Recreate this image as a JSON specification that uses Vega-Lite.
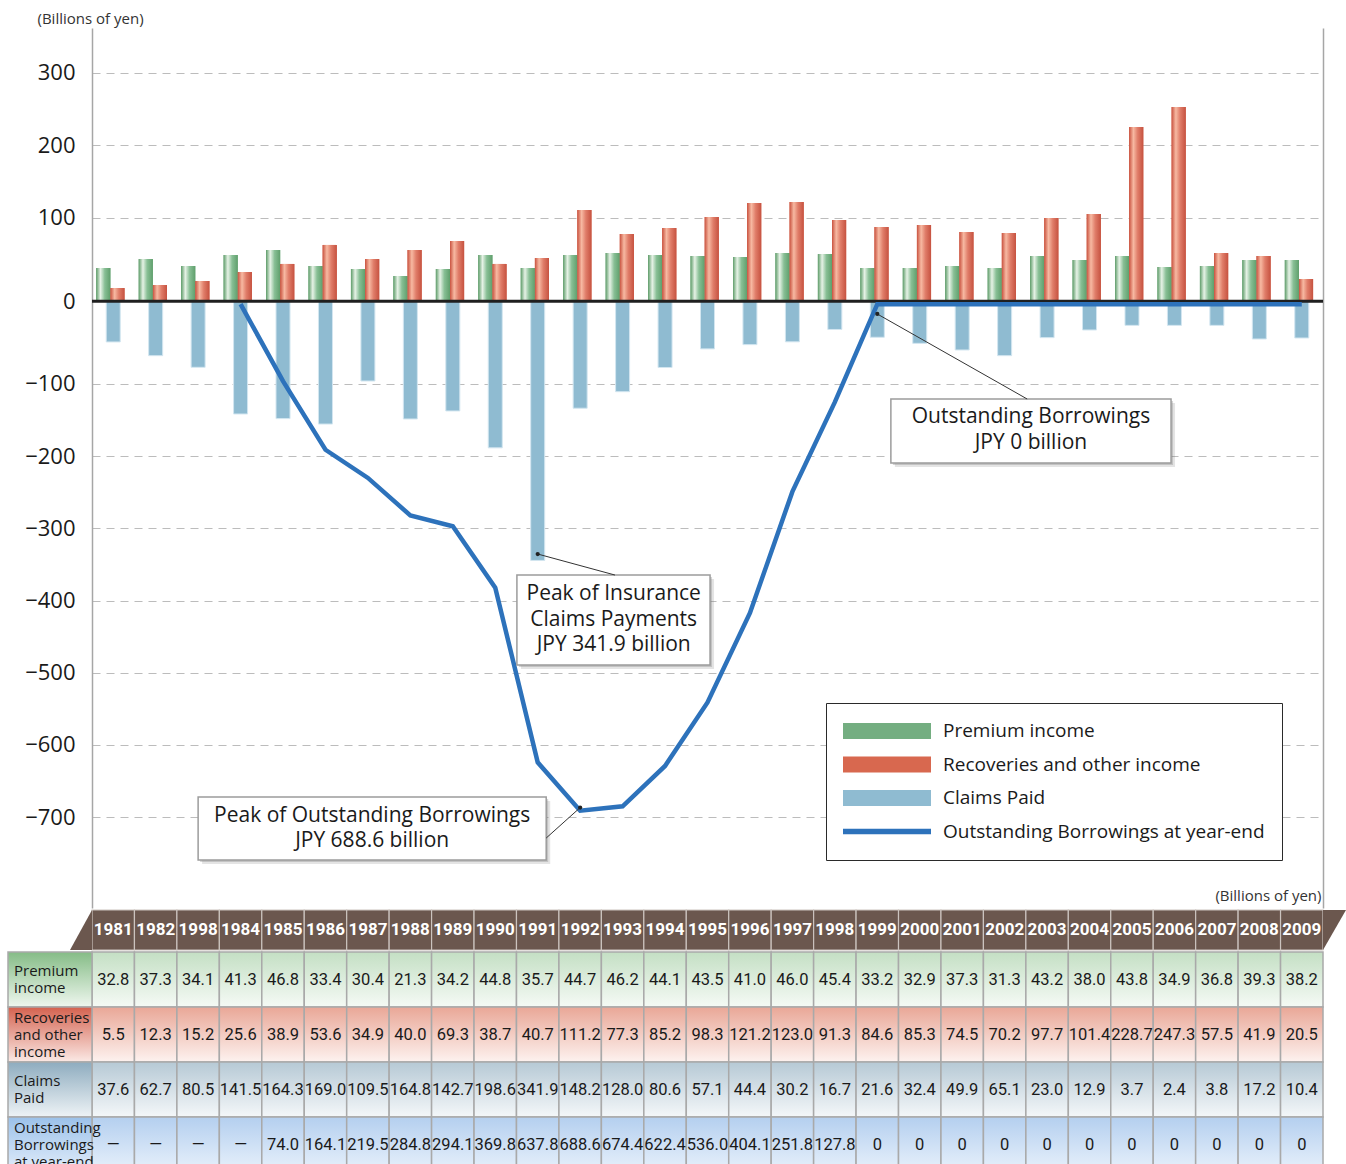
{
"$schema": "https://vega.github.io/schema/vega-lite/v6.json",
"width": 1231,
"height": 1136,
"autosize": {"type": "none"},
"padding": {"left": 92, "top": 28, "right": 23, "bottom": 0},
"background": "white",
"config": {"view": {"stroke": null}, "font": "Open Sans"},
"datasets": {
"d": [
{"k":"1981","yl":"1981","p":32.8,"r":5.5,"c":37.6,"ob":"—","pb":31.0,"rb":3.4,"cb":-41.8,"ol":null},
{"k":"1982","yl":"1982","p":37.3,"r":12.3,"c":62.7,"ob":"—","pb":43.4,"rb":7.6,"cb":-60.8,"ol":null},
{"k":"1983","yl":"1998","p":34.1,"r":15.2,"c":80.5,"ob":"—","pb":33.8,"rb":13.1,"cb":-76.9,"ol":null},
{"k":"1984","yl":"1984","p":41.3,"r":25.6,"c":141.5,"ob":"—","pb":49.0,"rb":25.5,"cb":-141.6,"ol":0},
{"k":"1985","yl":"1985","p":46.8,"r":38.9,"c":164.3,"ob":"74.0","pb":55.9,"rb":36.6,"cb":-148.0,"ol":-92},
{"k":"1986","yl":"1986","p":33.4,"r":53.6,"c":169.0,"ob":"164.1","pb":33.8,"rb":62.8,"cb":-155.5,"ol":-187},
{"k":"1987","yl":"1987","p":30.4,"r":34.9,"c":109.5,"ob":"219.5","pb":29.7,"rb":43.4,"cb":-95.9,"ol":-226},
{"k":"1988","yl":"1988","p":21.3,"r":40.0,"c":164.8,"ob":"284.8","pb":20.0,"rb":55.9,"cb":-148.5,"ol":-278},
{"k":"1989","yl":"1989","p":34.2,"r":69.3,"c":142.7,"ob":"294.1","pb":29.7,"rb":68.3,"cb":-137.4,"ol":-293},
{"k":"1990","yl":"1990","p":44.8,"r":38.7,"c":198.6,"ob":"369.8","pb":49.0,"rb":36.6,"cb":-188.5,"ol":-378},
{"k":"1991","yl":"1991","p":35.7,"r":40.7,"c":341.9,"ob":"637.8","pb":31.0,"rb":44.8,"cb":-344.5,"ol":-620},
{"k":"1992","yl":"1992","p":44.7,"r":111.2,"c":148.2,"ob":"688.6","pb":49.0,"rb":111.0,"cb":-133.6,"ol":-687},
{"k":"1993","yl":"1993","p":46.2,"r":77.3,"c":128.0,"ob":"674.4","pb":51.7,"rb":77.9,"cb":-110.7,"ol":-681},
{"k":"1994","yl":"1994","p":44.1,"r":85.2,"c":80.6,"ob":"622.4","pb":49.0,"rb":86.2,"cb":-77.2,"ol":-625},
{"k":"1995","yl":"1995","p":43.5,"r":98.3,"c":57.1,"ob":"536.0","pb":47.6,"rb":101.4,"cb":-51.4,"ol":-537},
{"k":"1996","yl":"1996","p":41.0,"r":121.2,"c":44.4,"ob":"404.1","pb":46.2,"rb":120.7,"cb":-45.5,"ol":-413},
{"k":"1997","yl":"1997","p":46.0,"r":123.0,"c":30.2,"ob":"251.8","pb":51.7,"rb":122.1,"cb":-41.6,"ol":-245},
{"k":"1998","yl":"1998","p":45.4,"r":91.3,"c":16.7,"ob":"127.8","pb":50.3,"rb":97.2,"cb":-24.5,"ol":-121},
{"k":"1999","yl":"1999","p":33.2,"r":84.6,"c":21.6,"ob":"0","pb":31.0,"rb":87.6,"cb":-35.3,"ol":0},
{"k":"2000","yl":"2000","p":32.9,"r":85.3,"c":32.4,"ob":"0","pb":31.0,"rb":90.3,"cb":-43.7,"ol":0},
{"k":"2001","yl":"2001","p":37.3,"r":74.5,"c":49.9,"ob":"0","pb":33.8,"rb":80.7,"cb":-52.9,"ol":0},
{"k":"2002","yl":"2002","p":31.3,"r":70.2,"c":65.1,"ob":"0","pb":31.0,"rb":79.3,"cb":-60.8,"ol":0},
{"k":"2003","yl":"2003","p":43.2,"r":97.7,"c":23.0,"ob":"0","pb":47.6,"rb":100.0,"cb":-35.8,"ol":0},
{"k":"2004","yl":"2004","p":38.0,"r":101.4,"c":12.9,"ob":"0","pb":42.1,"rb":105.5,"cb":-25.2,"ol":0},
{"k":"2005","yl":"2005","p":43.8,"r":228.7,"c":3.7,"ob":"0","pb":47.6,"rb":225.5,"cb":-18.8,"ol":0},
{"k":"2006","yl":"2006","p":34.9,"r":247.3,"c":2.4,"ob":"0","pb":32.4,"rb":253.1,"cb":-18.8,"ol":0},
{"k":"2007","yl":"2007","p":36.8,"r":57.5,"c":3.8,"ob":"0","pb":33.8,"rb":51.7,"cb":-18.8,"ol":0},
{"k":"2008","yl":"2008","p":39.3,"r":41.9,"c":17.2,"ob":"0","pb":42.1,"rb":47.6,"cb":-37.7,"ol":0},
{"k":"2009","yl":"2009","p":38.2,"r":20.5,"c":10.4,"ob":"0","pb":42.1,"rb":15.9,"cb":-36.3,"ol":0}
],
"rl": [
{"row":"p","lab":"Premium\nincome"},
{"row":"r","lab":"Recoveries\nand other\nincome"},
{"row":"c","lab":"Claims\nPaid"},
{"row":"ob","lab":"Outstanding\nBorrowings\nat year-end"}
]
},
"layer": [
{
"data": {"name": "d"},
"layer": [
{
"transform": [{"fold": ["pb","rb"], "as": ["s","v"]}],
"mark": {"type": "bar"},
"encoding": {
"x": {"field":"k","type":"nominal","axis":null,"scale":{"domain":["1981","1982","1983","1984","1985","1986","1987","1988","1989","1990","1991","1992","1993","1994","1995","1996","1997","1998","1999","2000","2001","2002","2003","2004","2005","2006","2007","2008","2009"],"paddingInner":0,"paddingOuter":0}},
"xOffset": {"field":"s","type":"nominal","scale":{"domain":["pb","rb"],"paddingInner":0,"paddingOuter":0.5,"align":0.3}},
"y": {"field":"v","type":"quantitative","title":"(Billions of yen)",
"scale":{"type":"linear","domain":[-826,-0.01,0.01,362],"range":[880,283.8,262.5,0],"nice":false,"zero":false},
"axis":{"values":[-700,-600,-500,-400,-300,-200,-100,0,100,200,300],"format":"d","title":"(Billions of yen)","titleAngle":0,"titleX":-55,"titleY":-10,"titleAlign":"left","titleBaseline":"middle","titleFontSize":15,"titleFontWeight":"normal","titleColor":"#333333","titleFont":"Open Sans","labelFont":"Open Sans","labelFontSize":22,"labelColor":"#1a1a1a","labelPadding":17,"ticks":false,"domainColor":"#a6a6a6","domainWidth":1.5,"grid":true,"gridColor":"#bcbcbc","gridDash":[8,6],"gridWidth":1.2}},
"y2": {"datum": 0},
"color": {"field":"s","type":"nominal",
"scale":{"domain":["pb","rb","cb","ol"],"range":["#74ae81","#d8684f","#8fbbd1","#2d72bb"]},
"legend":{"title":null,"orient":"none","legendX":734,"legendY":675,"direction":"vertical","strokeColor":"#2a2a2a","fillColor":"white","padding":17,"symbolSize":7744,"symbolType":"M-1,-0.18H1V0.18H-1Z","clipHeight":22,"rowPadding":11.5,"labelFont":"Open Sans","labelFontSize":19,"labelColor":"#1a1a1a","labelOffset":12,"labelLimit":420,"symbolStrokeWidth":0,
"labelExpr":"datum.value==='pb'?'Premium income':datum.value==='rb'?'Recoveries and other income':datum.value==='cb'?'Claims Paid':'Outstanding Borrowings at year-end'",
"encode":{"symbols":{"update":{
"shape":{"signal":"datum.value==='ol' ? 'M-1,-0.065H1V0.065H-1Z' : 'M-1,-0.18H1V0.18H-1Z'"},
"opacity":{"value":1}}}}}}
}
},
{
"transform": [{"fold": ["pb","rb"], "as": ["s","v"]},{"filter":"datum.s==='pb'"}],
"mark": {"type": "bar","color":{"gradient":"linear","x1":0,"y1":0,"x2":1,"y2":0,"stops":[{"offset":0,"color":"#5e9c69"},{"offset":0.3,"color":"#e6f2e6"},{"offset":0.6,"color":"#88bf95"},{"offset":1,"color":"#5f9f6c"}]}},
"encoding": {
"x": {"field":"k","type":"nominal","axis":null,"scale":{"domain":["1981","1982","1983","1984","1985","1986","1987","1988","1989","1990","1991","1992","1993","1994","1995","1996","1997","1998","1999","2000","2001","2002","2003","2004","2005","2006","2007","2008","2009"],"paddingInner":0,"paddingOuter":0}},
"xOffset": {"field":"s","type":"nominal","scale":{"domain":["pb","rb"],"paddingInner":0,"paddingOuter":0.5,"align":0.3}},
"y": {"field":"v","type":"quantitative","title":"(Billions of yen)","scale":{"type":"linear","domain":[-826,-0.01,0.01,362],"range":[880,283.8,262.5,0],"nice":false,"zero":false}},
"y2": {"datum": 0}
}
},
{
"transform": [{"fold": ["pb","rb"], "as": ["s","v"]},{"filter":"datum.s==='rb'"}],
"mark": {"type": "bar","color":{"gradient":"linear","x1":0,"y1":0,"x2":1,"y2":0,"stops":[{"offset":0,"color":"#c9523f"},{"offset":0.3,"color":"#f7b9a2"},{"offset":0.6,"color":"#e07d69"},{"offset":1,"color":"#c65240"}]}},
"encoding": {
"x": {"field":"k","type":"nominal","axis":null,"scale":{"domain":["1981","1982","1983","1984","1985","1986","1987","1988","1989","1990","1991","1992","1993","1994","1995","1996","1997","1998","1999","2000","2001","2002","2003","2004","2005","2006","2007","2008","2009"],"paddingInner":0,"paddingOuter":0}},
"xOffset": {"field":"s","type":"nominal","scale":{"domain":["pb","rb"],"paddingInner":0,"paddingOuter":0.5,"align":0.3}},
"y": {"field":"v","type":"quantitative","title":"(Billions of yen)","scale":{"type":"linear","domain":[-826,-0.01,0.01,362],"range":[880,283.8,262.5,0],"nice":false,"zero":false}},
"y2": {"datum": 0}
}
},
{
"mark": {"type": "bar","color":"#8fbbd1","stroke":"#d3e6f0","strokeWidth":1,"width":{"band":0.33}},
"encoding": {
"x": {"field":"k","type":"nominal","axis":null,"scale":{"domain":["1981","1982","1983","1984","1985","1986","1987","1988","1989","1990","1991","1992","1993","1994","1995","1996","1997","1998","1999","2000","2001","2002","2003","2004","2005","2006","2007","2008","2009"],"paddingInner":0,"paddingOuter":0}},
"y": {"field":"cb","type":"quantitative","title":"(Billions of yen)","scale":{"type":"linear","domain":[-826,-0.01,0.01,362],"range":[880,283.8,262.5,0],"nice":false,"zero":false}},
"y2": {"datum": 0}
}
},
{
"data": {"values": [{}]},
"mark": {"type": "rule","color":"#1f1f1f","strokeWidth":3},
"encoding": {
"y": {"datum": 0,"type":"quantitative","title":"(Billions of yen)","scale":{"type":"linear","domain":[-826,-0.01,0.01,362],"range":[880,283.8,262.5,0],"nice":false,"zero":false}}
}
},
{
"mark": {"type": "line","color":"#2d72bb","strokeWidth":4.5,"yOffset":3},
"encoding": {
"x": {"field":"k","type":"nominal","axis":null,"scale":{"domain":["1981","1982","1983","1984","1985","1986","1987","1988","1989","1990","1991","1992","1993","1994","1995","1996","1997","1998","1999","2000","2001","2002","2003","2004","2005","2006","2007","2008","2009"],"paddingInner":0,"paddingOuter":0}},
"y": {"field":"ol","type":"quantitative","title":"(Billions of yen)","scale":{"type":"linear","domain":[-826,-0.01,0.01,362],"range":[880,283.8,262.5,0],"nice":false,"zero":false}}
}
}
]
},
{
"data": {"values": [{}]},
"layer": [
{"mark":{"type":"rect","fill":"#777777","opacity":0.3,"xOffset":2,"x2Offset":2,"yOffset":2,"y2Offset":2},
"encoding":{"x":{"datum":10.01,"type":"quantitative","axis":null,"scale":{"type":"linear","domain":[0,29],"nice":false,"zero":false}},"x2":{"datum":14.56},
"y":{"datum":-364.7,"type":"quantitative","title":"(Billions of yen)","scale":{"type":"linear","domain":[-826,-0.01,0.01,362],"range":[880,283.8,262.5,0],"nice":false,"zero":false},
"axis":{"orient":"right","labels":false,"ticks":false,"grid":false,"domainColor":"#a6a6a6","domainWidth":1.5,"title":"(Billions of yen)","titleAngle":0,"titleX":-2,"titleY":867,"titleAlign":"right","titleBaseline":"middle","titleFontSize":15,"titleFontWeight":"normal","titleColor":"#333333","titleFont":"Open Sans"}},
"y2":{"datum":-489.4}}},
{"mark":{"type":"rect","fill":"#777777","opacity":0.2,"xOffset":4,"x2Offset":4,"yOffset":4,"y2Offset":4},
"encoding":{"x":{"datum":10.01,"type":"quantitative"},"x2":{"datum":14.56},"y":{"datum":-364.7,"type":"quantitative"},"y2":{"datum":-489.4}}},
{"mark":{"type":"rect","fill":"white","stroke":"#9c9c9c","strokeWidth":1.5},
"encoding":{"x":{"datum":10.01,"type":"quantitative"},"x2":{"datum":14.56},"y":{"datum":-364.7,"type":"quantitative"},"y2":{"datum":-489.4}}},
{"mark":{"type":"text","text":["Peak of Insurance","Claims Payments","JPY 341.9 billion"],"fontSize":21,"lineHeight":25.5,"align":"center","baseline":"middle","color":"#1a1a1a","font":"Open Sans"},
"encoding":{"x":{"datum":12.29,"type":"quantitative"},"y":{"datum":-391.0,"type":"quantitative"}}},
{"mark":{"type":"rule","color":"#333333","strokeWidth":1},
"encoding":{"x":{"datum":10.5,"type":"quantitative"},"x2":{"datum":12.32},"y":{"datum":-335.6,"type":"quantitative"},"y2":{"datum":-364.7}}},
{"mark":{"type":"point","filled":true,"color":"#222222","size":18,"opacity":1},
"encoding":{"x":{"datum":10.5,"type":"quantitative"},"y":{"datum":-335.6,"type":"quantitative"}}},

{"mark":{"type":"rect","fill":"#777777","opacity":0.3,"xOffset":2,"x2Offset":2,"yOffset":2,"y2Offset":2},
"encoding":{"x":{"datum":2.5,"type":"quantitative"},"x2":{"datum":10.7},"y":{"datum":-672.2,"type":"quantitative"},"y2":{"datum":-759.5}}},
{"mark":{"type":"rect","fill":"#777777","opacity":0.2,"xOffset":4,"x2Offset":4,"yOffset":4,"y2Offset":4},
"encoding":{"x":{"datum":2.5,"type":"quantitative"},"x2":{"datum":10.7},"y":{"datum":-672.2,"type":"quantitative"},"y2":{"datum":-759.5}}},
{"mark":{"type":"rect","fill":"white","stroke":"#9c9c9c","strokeWidth":1.5},
"encoding":{"x":{"datum":2.5,"type":"quantitative"},"x2":{"datum":10.7},"y":{"datum":-672.2,"type":"quantitative"},"y2":{"datum":-759.5}}},
{"mark":{"type":"text","text":["Peak of Outstanding Borrowings","JPY 688.6 billion"],"fontSize":21,"lineHeight":25.5,"align":"center","baseline":"middle","color":"#1a1a1a","font":"Open Sans"},
"encoding":{"x":{"datum":6.6,"type":"quantitative"},"y":{"datum":-698.5,"type":"quantitative"}}},
{"mark":{"type":"rule","color":"#333333","strokeWidth":1},
"encoding":{"x":{"datum":11.5,"type":"quantitative"},"x2":{"datum":10.7},"y":{"datum":-686.9,"type":"quantitative"},"y2":{"datum":-729.1}}},
{"mark":{"type":"point","filled":true,"color":"#222222","size":18,"opacity":1},
"encoding":{"x":{"datum":11.5,"type":"quantitative"},"y":{"datum":-686.9,"type":"quantitative"}}},

{"mark":{"type":"rect","fill":"#777777","opacity":0.3,"xOffset":2,"x2Offset":2,"yOffset":2,"y2Offset":2},
"encoding":{"x":{"datum":18.82,"type":"quantitative"},"x2":{"datum":25.42},"y":{"datum":-120.8,"type":"quantitative"},"y2":{"datum":-209.5}}},
{"mark":{"type":"rect","fill":"#777777","opacity":0.2,"xOffset":4,"x2Offset":4,"yOffset":4,"y2Offset":4},
"encoding":{"x":{"datum":18.82,"type":"quantitative"},"x2":{"datum":25.42},"y":{"datum":-120.8,"type":"quantitative"},"y2":{"datum":-209.5}}},
{"mark":{"type":"rect","fill":"white","stroke":"#9c9c9c","strokeWidth":1.5},
"encoding":{"x":{"datum":18.82,"type":"quantitative"},"x2":{"datum":25.42},"y":{"datum":-120.8,"type":"quantitative"},"y2":{"datum":-209.5}}},
{"mark":{"type":"text","text":["Outstanding Borrowings","JPY 0 billion"],"fontSize":21,"lineHeight":25.5,"align":"center","baseline":"middle","color":"#1a1a1a","font":"Open Sans"},
"encoding":{"x":{"datum":22.12,"type":"quantitative"},"y":{"datum":-145.8,"type":"quantitative"}}},
{"mark":{"type":"rule","color":"#333333","strokeWidth":1},
"encoding":{"x":{"datum":18.5,"type":"quantitative"},"x2":{"datum":22.03},"y":{"datum":-3.05,"type":"quantitative"},"y2":{"datum":-120.8}}},
{"mark":{"type":"point","filled":true,"color":"#222222","size":18,"opacity":1},
"encoding":{"x":{"datum":18.5,"type":"quantitative"},"y":{"datum":-3.05,"type":"quantitative"}}}
]
},
{
"data": {"name": "d"},
"transform": [{"fold": ["yl"], "as": ["row","txt"]}],
"encoding": {
"x": {"field":"k","type":"nominal","axis":null,"scale":{"domain":["1981","1982","1983","1984","1985","1986","1987","1988","1989","1990","1991","1992","1993","1994","1995","1996","1997","1998","1999","2000","2001","2002","2003","2004","2005","2006","2007","2008","2009"],"paddingInner":0,"paddingOuter":0}},
"y": {"field":"row","type":"nominal","axis":null,"scale":{"domain":["yl"],"range":[882,922],"paddingInner":0,"paddingOuter":0}}
},
"layer": [
{"mark":{"type":"rect","fill":"#6b574e","stroke":"#cbc3be","strokeWidth":1.2}},
{"mark":{"type":"text","color":"white","fontWeight":"bold","fontSize":17,"font":"Roboto","baseline":"middle","align":"center"},
"encoding":{"text":{"field":"txt","type":"nominal"}}},
{"transform":[{"filter":"datum.k==='1981'"}],
"mark":{"type":"point","shape":"M0,-1L0,1L-1.1,1Z","size":1600,"filled":true,"color":"#6b574e","opacity":1,"strokeWidth":0},
"encoding":{"x":{"field":"k","type":"nominal","bandPosition":0}}},
{"transform":[{"filter":"datum.k==='2009'"}],
"mark":{"type":"point","shape":"M0,-1L1.15,-1L0,1Z","size":1600,"filled":true,"color":"#6b574e","opacity":1,"strokeWidth":0},
"encoding":{"x":{"field":"k","type":"nominal","bandPosition":1}}}
]
},
{
"data": {"name": "d"},
"transform": [{"fold": ["p","r","c","ob"], "as": ["row","val"]}],
"encoding": {
"x": {"field":"k","type":"nominal","axis":null,"scale":{"domain":["1981","1982","1983","1984","1985","1986","1987","1988","1989","1990","1991","1992","1993","1994","1995","1996","1997","1998","1999","2000","2001","2002","2003","2004","2005","2006","2007","2008","2009"],"paddingInner":0,"paddingOuter":0}},
"y": {"field":"row","type":"nominal","axis":null,"scale":{"domain":["p","r","c","ob"],"range":[924,1144],"paddingInner":0,"paddingOuter":0}}
},
"layer": [
{"mark":{"type":"rect","stroke":"#a9a9a9","strokeWidth":1.5},
"encoding":{"fill":{"condition":[
{"test":"datum.row==='p'","value":{"gradient":"linear","x1":0,"y1":0,"x2":0,"y2":1,"stops":[{"offset":0,"color":"#c4dfc4"},{"offset":1,"color":"#f5faf5"}]}},
{"test":"datum.row==='r'","value":{"gradient":"linear","x1":0,"y1":0,"x2":0,"y2":1,"stops":[{"offset":0,"color":"#e9a797"},{"offset":1,"color":"#fdf2ef"}]}},
{"test":"datum.row==='c'","value":{"gradient":"linear","x1":0,"y1":0,"x2":0,"y2":1,"stops":[{"offset":0,"color":"#b6c9d5"},{"offset":1,"color":"#f4f7f9"}]}}],
"value":{"gradient":"linear","x1":0,"y1":0,"x2":0,"y2":1,"stops":[{"offset":0,"color":"#b4cfef"},{"offset":1,"color":"#e8f1fb"}]}}}},
{"transform":[{"filter":"datum.row!=='ob'"}],
"mark":{"type":"text","color":"#1a1a1a","fontSize":16.5,"font":"Roboto","baseline":"middle","align":"center"},
"encoding":{"text":{"field":"val","type":"quantitative","format":".1f"}}},
{"transform":[{"filter":"datum.row==='ob'"}],
"mark":{"type":"text","color":"#1a1a1a","fontSize":16.5,"font":"Roboto","baseline":"middle","align":"center"},
"encoding":{"text":{"field":"val","type":"nominal"}}}
]
},
{
"data": {"name": "rl"},
"transform": [{"fold": ["lab"], "as": ["col","txt"]}],
"encoding": {
"x": {"field":"col","type":"nominal","axis":null,"scale":{"domain":["lab"],"range":[-84,0],"paddingInner":0,"paddingOuter":0}},
"y": {"field":"row","type":"nominal","axis":null,"scale":{"domain":["p","r","c","ob"],"range":[924,1144],"paddingInner":0,"paddingOuter":0}}
},
"layer": [
{"mark":{"type":"rect","stroke":"#a9a9a9","strokeWidth":1.5},
"encoding":{"fill":{"condition":[
{"test":"datum.row==='p'","value":{"gradient":"linear","x1":0,"y1":0,"x2":0,"y2":1,"stops":[{"offset":0,"color":"#85bc86"},{"offset":1,"color":"#eff7ef"}]}},
{"test":"datum.row==='r'","value":{"gradient":"linear","x1":0,"y1":0,"x2":0,"y2":1,"stops":[{"offset":0,"color":"#d4624f"},{"offset":1,"color":"#fbe9e5"}]}},
{"test":"datum.row==='c'","value":{"gradient":"linear","x1":0,"y1":0,"x2":0,"y2":1,"stops":[{"offset":0,"color":"#8eacbf"},{"offset":1,"color":"#eef3f6"}]}}],
"value":{"gradient":"linear","x1":0,"y1":0,"x2":0,"y2":1,"stops":[{"offset":0,"color":"#9bc1ea"},{"offset":1,"color":"#e2edfa"}]}}}},
{"transform":[{"filter":"datum.row==='p' || datum.row==='c'"}],
"mark":{"type":"text","color":"#1a1a1a","fontSize":15,"font":"Open Sans","baseline":"middle","align":"left","dx":6,"dy":-8.5,"lineBreak":"\n","lineHeight":17},
"encoding":{"x":{"field":"col","type":"nominal","bandPosition":0},"text":{"field":"txt","type":"nominal"}}},
{"transform":[{"filter":"datum.row==='r' || datum.row==='ob'"}],
"mark":{"type":"text","color":"#1a1a1a","fontSize":15,"font":"Open Sans","baseline":"middle","align":"left","dx":6,"dy":-17,"lineBreak":"\n","lineHeight":17},
"encoding":{"x":{"field":"col","type":"nominal","bandPosition":0},"text":{"field":"txt","type":"nominal"}}}
]
}
],
"resolve": {"scale": {"x": "independent", "y": "independent"}}
}
